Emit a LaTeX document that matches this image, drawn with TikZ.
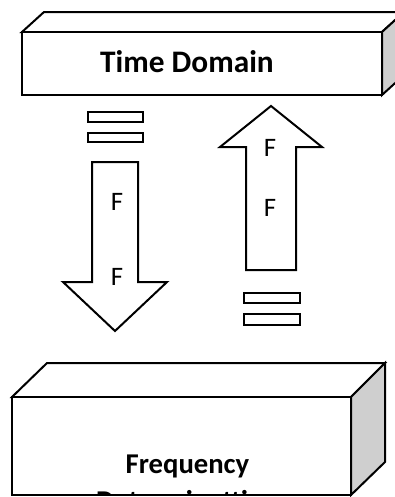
\documentclass[tikz,border=0pt]{standalone}
\usepackage{fontspec}
\setmainfont{Carlito}

\begin{document}
\begin{tikzpicture}[x=0.75pt,y=-0.75pt]
			\tikzstyle{edge}=[draw=black,line width=1.5pt,line join=miter]
			\tikzstyle{face}=[edge,fill=white]
			\tikzstyle{side}=[edge,fill=black!19]
			\tikzstyle{bar}=[draw=black,line width=1.3pt,fill=white]
			\tikzstyle{boxtext}=[font=\bfseries\fontsize{23.5}{28}\selectfont,inner sep=0pt,anchor=base]
			\tikzstyle{ftext}=[font=\fontsize{20}{24}\selectfont,inner sep=0pt]
			\clip (0,0) rectangle (395,497);
			% time domain
			\draw[face] (22,32) -- (44,12) -- (404,12) -- (382,32) -- cycle;
			\draw[side] (382,32) -- (404,12) -- (404,75) -- (382,95) -- cycle;
			\draw[face] (22,32) rectangle (382,95);
			\node[boxtext] (time) at (187,72) {Time Domain};
			% down arrow
			\draw[face] (92,162) -- (138,162) -- (138,282) -- (167,282) -- (115,331)
				-- (63,282) -- (92,282) -- cycle;
			\node[ftext] (f1) at (117,202) {F};
			\node[ftext] (f2) at (117,277) {F};
			% up arrow
			\draw[face] (246,270) -- (296,270) -- (296,147) -- (322,147) -- (271,106)
				-- (220,147) -- (246,147) -- cycle;
			\node[ftext] (f3) at (270,148) {F};
			\node[ftext] (f4) at (270,208) {F};
			% equal signs
			\draw[bar] (88,112) rectangle (143,122);
			\draw[bar] (88,133) rectangle (143,142);
			\draw[bar] (244,293) rectangle (300,303);
			\draw[bar] (244,314) rectangle (300,325);
			% frequency
			\draw[face] (12,397) -- (47,363) -- (385,363) -- (351,397) -- cycle;
			\draw[side] (351,397) -- (385,363) -- (385,462) -- (351,495) -- cycle;
			\draw[face] (12,397) rectangle (351,495);
			\begin{scope}
				\clip (12,397) rectangle (351,495);
				\node[boxtext,font=\bfseries\fontsize{21.5}{26}\selectfont] (freq) at (187.5,473) {Frequency};
				\node[boxtext,font=\bfseries\fontsize{21.5}{26}\selectfont] (det) at (187.5,510) {Determinattion};
			\end{scope}
			\draw[edge] (12,495) -- (351,495);
		\end{tikzpicture}
\end{document}
